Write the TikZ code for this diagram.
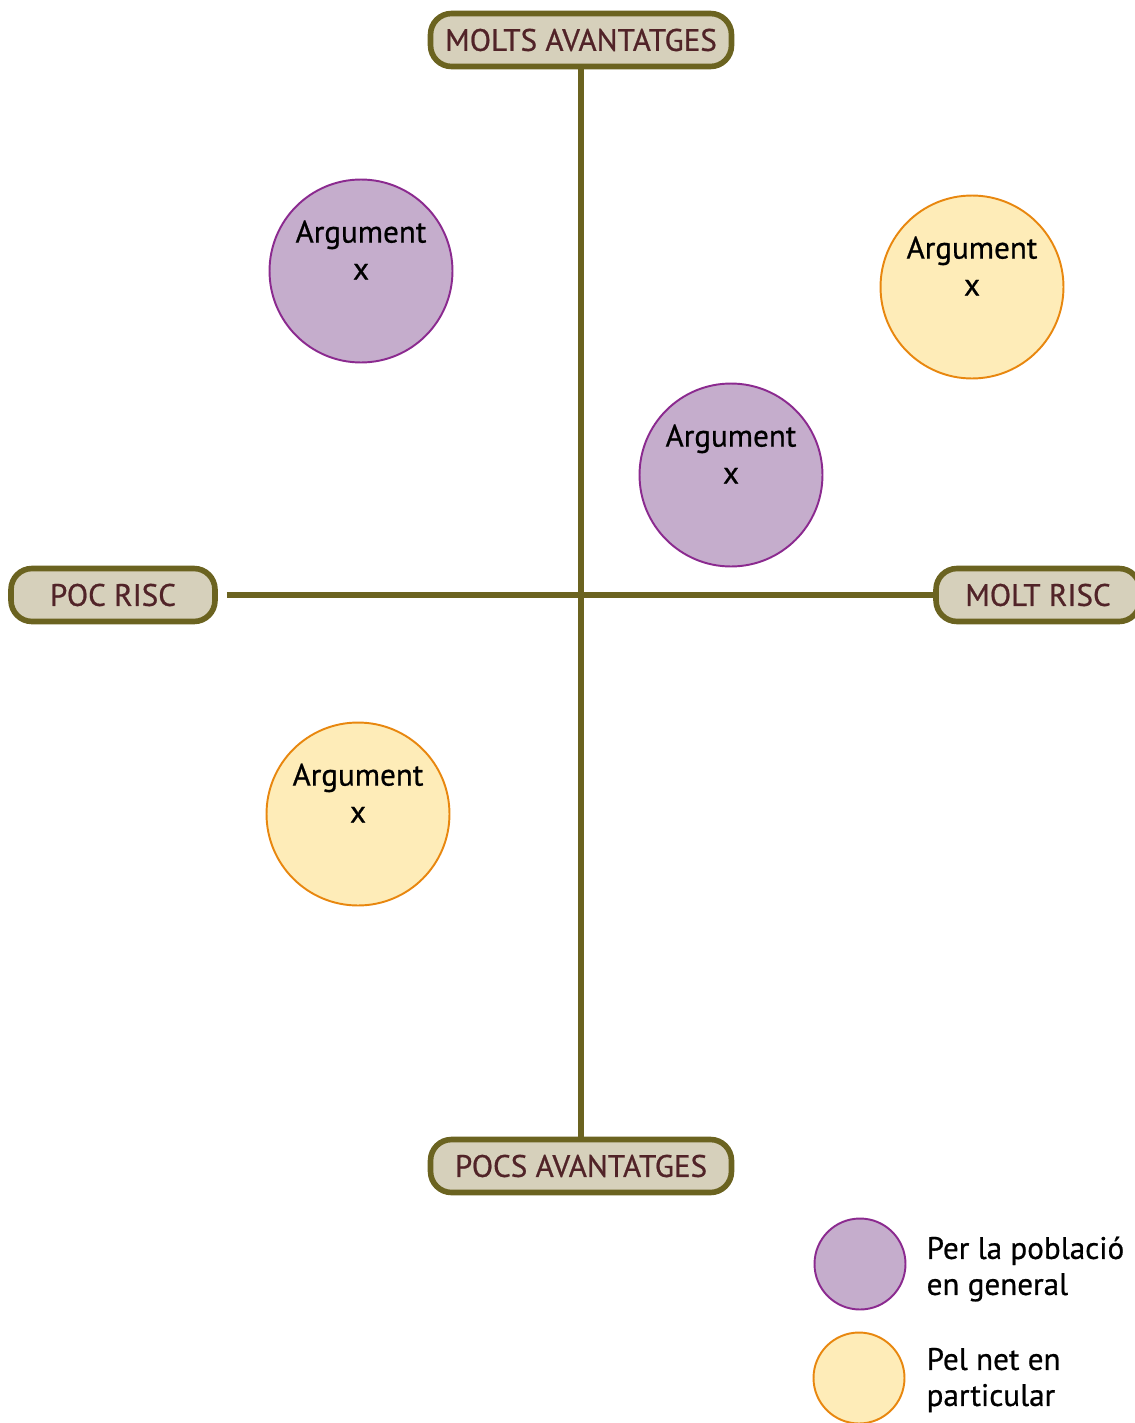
\documentclass[tikz,border=0pt]{standalone}
\usepackage{fontspec}
\setmainfont{PT Sans}[FakeBold=0.7]
\usepackage{tikz}
\usetikzlibrary{positioning}
\definecolor{axisolive}{HTML}{6B6320}
\definecolor{boxbeige}{HTML}{D6D0BB}
\definecolor{boxtext}{HTML}{512328}
\definecolor{purplefill}{HTML}{C5ADCC}
\definecolor{purpleedge}{HTML}{8B2A8F}
\definecolor{yellowfill}{HTML}{FEECB8}
\definecolor{orangeedge}{HTML}{E8870F}
\tikzstyle{axisbox} = [rectangle, draw=axisolive, line width=3.2pt, fill=boxbeige, text=boxtext, rounded corners=0.42cm, minimum height=1.0cm, font=\fontsize{17.7}{21}\selectfont]
\tikzstyle{axis} = [draw=axisolive, line width=3.2pt]
\tikzstyle{general} = [circle, draw=purpleedge, fill=purplefill, line width=1.1pt, minimum size=3.66cm]
\tikzstyle{particular} = [circle, draw=orangeedge, fill=yellowfill, line width=1.1pt, minimum size=3.66cm]
\tikzstyle{argtext} = [align=center, font=\fontsize{17.7}{21}\selectfont]
\tikzstyle{legtext} = [align=left, font=\fontsize{17.7}{20.5}\selectfont]

\begin{document}
\begin{tikzpicture}[x=0.02cm, y=-0.02cm]
	\useasboundingbox (0,0) rectangle (1135,1423);
	
	\node (benefitshigh) [axisbox, minimum width=6.02cm, minimum height=1.06cm] at (581,40) {MOLTS AVANTATGES};
	\node (benefitslow) [axisbox, minimum width=6.02cm, minimum height=1.06cm] at (581,1166) {POCS AVANTATGES};
	\node (risklow) [axisbox, minimum width=4.08cm, minimum height=1.06cm] at (113,595) {POC RISC};
	\node (riskhigh) [axisbox, minimum width=4.08cm, minimum height=1.06cm] at (1038,595) {MOLT RISC};
	
	\draw [axis] (benefitshigh) -- (benefitslow);
	\draw [axis, shorten <=0.18cm] (risklow) -- (riskhigh);
	
	\node (argone) [general] at (361,271) {};
	\node (argtwo) [particular] at (972,287) {};
	\node (argthree) [general] at (731,475) {};
	\node (argfour) [particular] at (358,814) {};
	\foreach \arg in {argone, argtwo, argthree, argfour}
		\node [argtext] at ([yshift=0.42cm]\arg.center) {Argument\\x};
	
	\node (leggeneral) [general, minimum size=1.82cm] at (860,1264) {};
	\node (legparticular) [particular, minimum size=1.82cm] at (859,1378) {};
	\node (leggeneraltext) [legtext, right=0.28cm of leggeneral, yshift=-0.1cm] {Per la població\\en general};
	\node (legparticulartext) [legtext, right=0.3cm of legparticular, yshift=-0.04cm] {Pel net en\\particular};
	
\end{tikzpicture}
\end{document}
